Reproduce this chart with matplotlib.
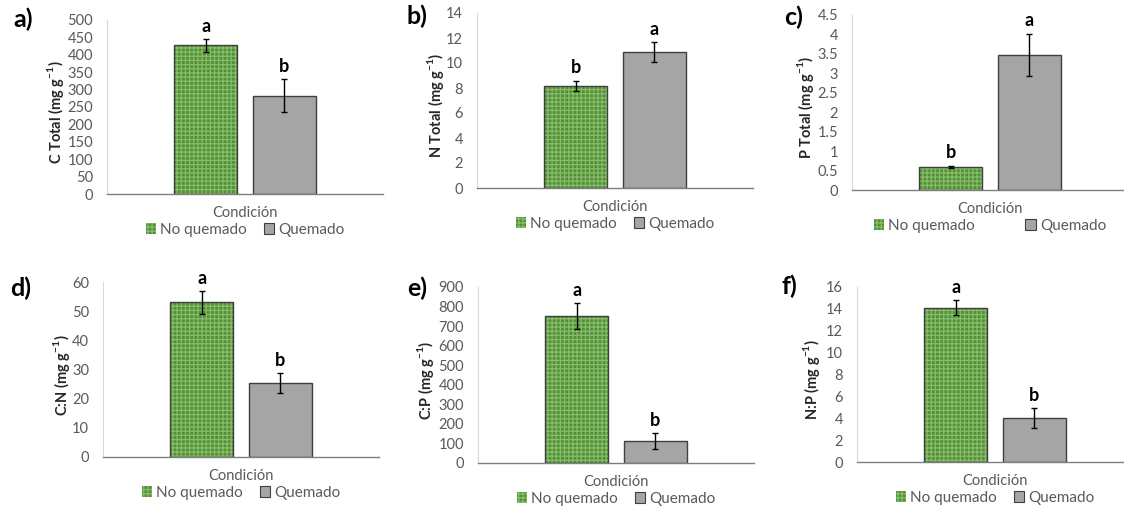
import matplotlib.pyplot as plt
from matplotlib.patches import Patch

plt.rcParams['font.family'] = ['Lato', 'DejaVu Sans']
plt.rcParams['hatch.linewidth'] = 0.9
plt.rcParams['mathtext.fontset'] = 'custom'
plt.rcParams['mathtext.bf'] = 'Lato:bold'
plt.rcParams['mathtext.rm'] = 'Lato:bold'

# Datos por panel: media y error estándar (No quemado, Quemado)
panel_tags = ['a)', 'b)', 'c)', 'd)', 'e)', 'f)']
ylabels = ['C Total (mg g$^{\\mathbf{-1}}$)', 'N Total (mg g$^{\\mathbf{-1}}$)',
           'P Total (mg g$^{\\mathbf{-1}}$)', 'C:N (mg g$^{\\mathbf{-1}}$)',
           'C:P (mg g$^{\\mathbf{-1}}$)', 'N:P (mg g$^{\\mathbf{-1}}$)']
no_quemado = [427, 8.2, 0.6, 53, 750, 14.1]
no_quemado_se = [18, 0.4, 0.03, 3.8, 66, 0.7]
quemado = [283, 10.9, 3.47, 25.3, 113, 4.05]
quemado_se = [48, 0.8, 0.55, 3.4, 40, 0.9]
letras_nq = ['a', 'b', 'b', 'a', 'a', 'a']
letras_q = ['b', 'a', 'a', 'b', 'b', 'b']
ymax = [500, 14, 4.5, 60, 900, 16]
ystep = [50, 2, 0.5, 10, 100, 2]
ytick_fmt = ['{:.0f}', '{:.0f}', '{:g}', '{:.0f}', '{:.0f}', '{:.0f}']

W, H = 1124, 508
# (izquierda, base, arriba) en píxeles
boxes = [(107, 194, 20), (477, 188, 13), (852, 190, 15),
         (103, 457, 282), (478, 463, 287), (857, 462, 287)]
tag_xy = [(23, 19), (417, 16), (794, 17), (21, 288), (417, 288), (789, 286)]
ylab_x = [56, 435, 806, 62, 426, 811]
col_space = [1.1, 1.1, 3.3, 1.1, 1.1, 1.1]

green = '#558f39'
green_hatch = '#86bd68'
gray = '#a5a5a5'
edge = '#3f3f3f'
txt_gray = '#595959'

fig = plt.figure(figsize=(W / 100, H / 100), dpi=100)

for i in range(6):
    left, base, top = boxes[i]
    ax = fig.add_axes([left / W, 1 - base / H, 276 / W, (base - top) / H])
    xs = [-0.285, 0.285]
    wd = 0.455
    ax.bar(xs[0], no_quemado[i], wd, color=green, edgecolor=green_hatch,
           hatch='++++', linewidth=0, zorder=2)
    ax.bar(xs[0], no_quemado[i], wd, facecolor='none', edgecolor=edge,
           linewidth=1.0, zorder=3)
    ax.bar(xs[1], quemado[i], wd, color=gray, edgecolor=edge, linewidth=1.0,
           zorder=2)
    ax.errorbar(xs, [no_quemado[i], quemado[i]],
                yerr=[no_quemado_se[i], quemado_se[i]], fmt='none',
                ecolor='black', elinewidth=1.0, capsize=2.2, capthick=1.0,
                zorder=4)
    for x, v, se, lt in [(xs[0], no_quemado[i], no_quemado_se[i], letras_nq[i]),
                         (xs[1], quemado[i], quemado_se[i], letras_q[i])]:
        ax.annotate(lt, (x, v + se), xytext=(0, 3), textcoords='offset points',
                    ha='center', va='bottom', fontsize=13, fontweight='bold')

    ax.set_xlim(-1, 1)
    ax.set_ylim(0, ymax[i])
    n = int(round(ymax[i] / ystep[i]))
    ticks = [k * ystep[i] for k in range(n + 1)]
    ax.set_yticks(ticks)
    ax.set_yticklabels([ytick_fmt[i].format(t) for t in ticks])
    ax.set_xticks([])
    ax.tick_params(axis='y', length=0, pad=10, labelsize=10.5,
                   labelcolor=txt_gray)
    for s in ['top', 'right']:
        ax.spines[s].set_visible(False)
    ax.spines['left'].set_color('#d9d9d9')
    ax.spines['left'].set_linewidth(0.8)
    ax.spines['bottom'].set_color('#7f7f7f')
    ax.spines['bottom'].set_linewidth(1.0)

    ax.set_ylabel(ylabels[i], fontsize=10.5, fontweight='bold', va='center',
                  color='#262626')
    ax.yaxis.set_label_coords((ylab_x[i] - left) / 276, 0.47)

    ax.text(0.5, -19 / (base - top), 'Condición', transform=ax.transAxes,
            ha='center', va='center', fontsize=10.5, color=txt_gray)
    handles = [Patch(facecolor=green, edgecolor=green_hatch, hatch='++++',
                     linewidth=0),
               Patch(facecolor=gray, edgecolor=edge, linewidth=0.8)]
    leg = ax.legend(handles, ['No quemado', 'Quemado'], loc='center',
                    bbox_to_anchor=(0.5, -36 / (base - top)), ncol=2,
                    frameon=False, fontsize=11, handlelength=0.7,
                    handleheight=0.7, handletextpad=0.25,
                    columnspacing=col_space[i], borderaxespad=0)
    for t in leg.get_texts():
        t.set_color(txt_gray)

    fig.text(tag_xy[i][0] / W, 1 - tag_xy[i][1] / H, panel_tags[i],
             fontsize=18, fontweight='bold', ha='center', va='center')

fig.savefig('out.png', dpi=100)
